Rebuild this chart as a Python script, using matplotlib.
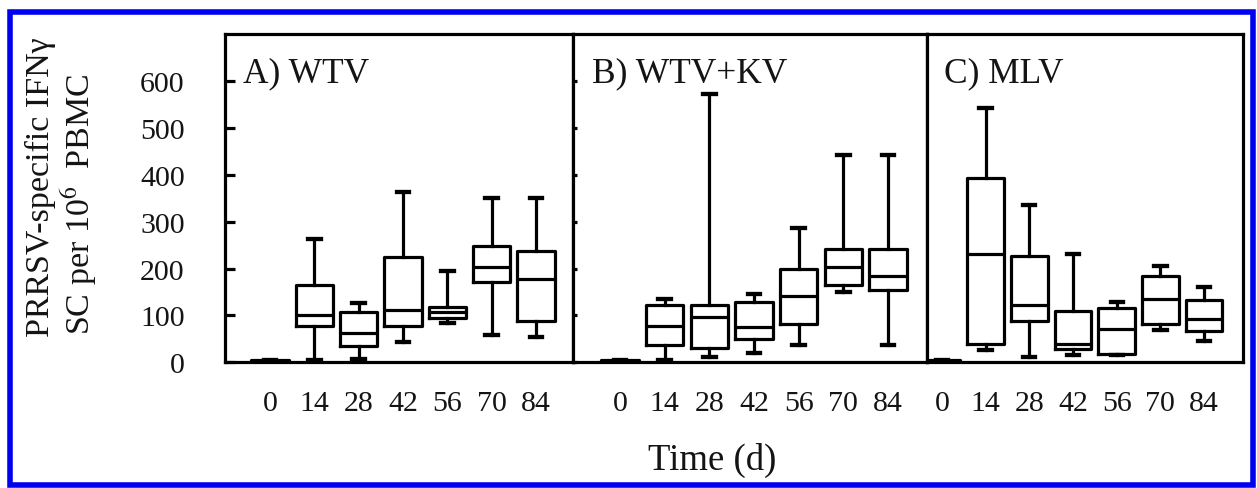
import matplotlib
matplotlib.use("Agg")
import matplotlib.pyplot as plt
from matplotlib.patches import Rectangle

plt.rcParams['font.family'] = ['Liberation Serif', 'DejaVu Serif']
plt.rcParams['mathtext.fontset'] = 'stix'

# sampling days (x categories)
days = [0, 14, 28, 42, 56, 70, 84]

# A) WTV
wtv_low = [0, 4, 6, 44, 84, 59, 53]
wtv_q1 = [0, 77, 34, 77, 95, 171, 87]
wtv_med = [2, 101, 63, 112, 107, 203, 178]
wtv_q3 = [4, 165, 107, 225, 117, 247, 237]
wtv_high = [4, 263, 127, 364, 195, 350, 350]

# B) WTV+KV
kv_low = [0, 4, 11, 19, 37, 149, 36]
kv_q1 = [0, 36, 30, 50, 82, 165, 155]
kv_med = [2, 77, 96, 75, 141, 203, 185]
kv_q3 = [4, 122, 122, 128, 200, 242, 242]
kv_high = [4, 136, 572, 146, 286, 442, 442]

# C) MLV
mlv_low = [0, 26, 11, 16, 15, 68, 45]
mlv_q1 = [0, 39, 89, 28, 18, 82, 66]
mlv_med = [2, 231, 122, 39, 70, 135, 92]
mlv_q3 = [4, 392, 227, 110, 115, 185, 133]
mlv_high = [4, 542, 335, 231, 128, 206, 161]

titles = ["A) WTV", "B) WTV+KV", "C) MLV"]
yticks = [0, 100, 200, 300, 400, 500, 600]

W, H = 1257, 489
fig = plt.figure(figsize=(W / 100, H / 100), dpi=100)


def px(x0, x1, y0=35, y1=363.3):
    return [x0 / W, 1 - y1 / H, (x1 - x0) / W, (y1 - y0) / H]


panels = [
    (px(225, 573), (-1.015, 6.835), (wtv_low, wtv_q1, wtv_med, wtv_q3, wtv_high)),
    (px(573, 927), (-1.05, 6.87), (kv_low, kv_q1, kv_med, kv_q3, kv_high)),
    (px(927, 1243), (-0.34, 6.89), (mlv_low, mlv_q1, mlv_med, mlv_q3, mlv_high)),
]

lw = 2.3
ink = '#141414'
for i, (rect, xl, series) in enumerate(panels):
    ax = fig.add_axes(rect)
    lo, q1, med, q3, hi = series
    stats = [dict(whislo=lo[k], q1=q1[k], med=med[k], q3=q3[k], whishi=hi[k])
             for k in range(len(days))]
    ax.bxp(stats, positions=range(len(days)), widths=0.84, capwidths=0.28,
           showfliers=False,
           boxprops=dict(color='black', lw=lw),
           whiskerprops=dict(color='black', lw=lw),
           capprops=dict(color='black', lw=lw + 0.8),
           medianprops=dict(color='black', lw=lw))
    ax.set_xlim(*xl)
    ax.set_ylim(0, 700)
    ax.set_xticks(range(len(days)))
    ax.set_xticklabels([str(d) for d in days])
    ax.tick_params(axis='x', length=0, pad=20, labelsize=21.5, labelcolor=ink)
    ax.set_yticks(yticks)
    if i == 0:
        ax.tick_params(axis='y', direction='in', length=7, width=lw, pad=29,
                       labelsize=21.5, labelcolor=ink)
    elif i == 1:
        ax.tick_params(axis='y', direction='in', length=3, width=lw,
                       labelleft=False)
    else:
        ax.tick_params(axis='y', length=0, labelleft=False)
    for s in ax.spines.values():
        s.set_linewidth(lw)
        s.set_color('black')
    ax.text(0.053, 0.857, titles[i], transform=ax.transAxes, fontsize=25.5,
            color=ink, ha='left', va='baseline')

fig.text(40 / W, 1 - 337 / H, "PRRSV-specific IFNγ", rotation=90,
         ha='center', va='bottom', fontsize=24.5, color=ink)
fig.text(79 / W, 1 - 335 / H, r"SC per 10$^{6}$  PBMC", rotation=90,
         ha='center', va='bottom', fontsize=24.5, color=ink)
fig.text(712 / W, 1 - 470 / H, "Time (d)", ha='center', va='baseline',
         fontsize=26.5, color=ink)

# blue outer frame
fig.patches.append(Rectangle((10 / W, 1 - 485.5 / H), 1243 / W, 473 / H,
                             transform=fig.transFigure, fill=False,
                             edgecolor='#0000f0', lw=4))

fig.savefig("out.png", dpi=100)
